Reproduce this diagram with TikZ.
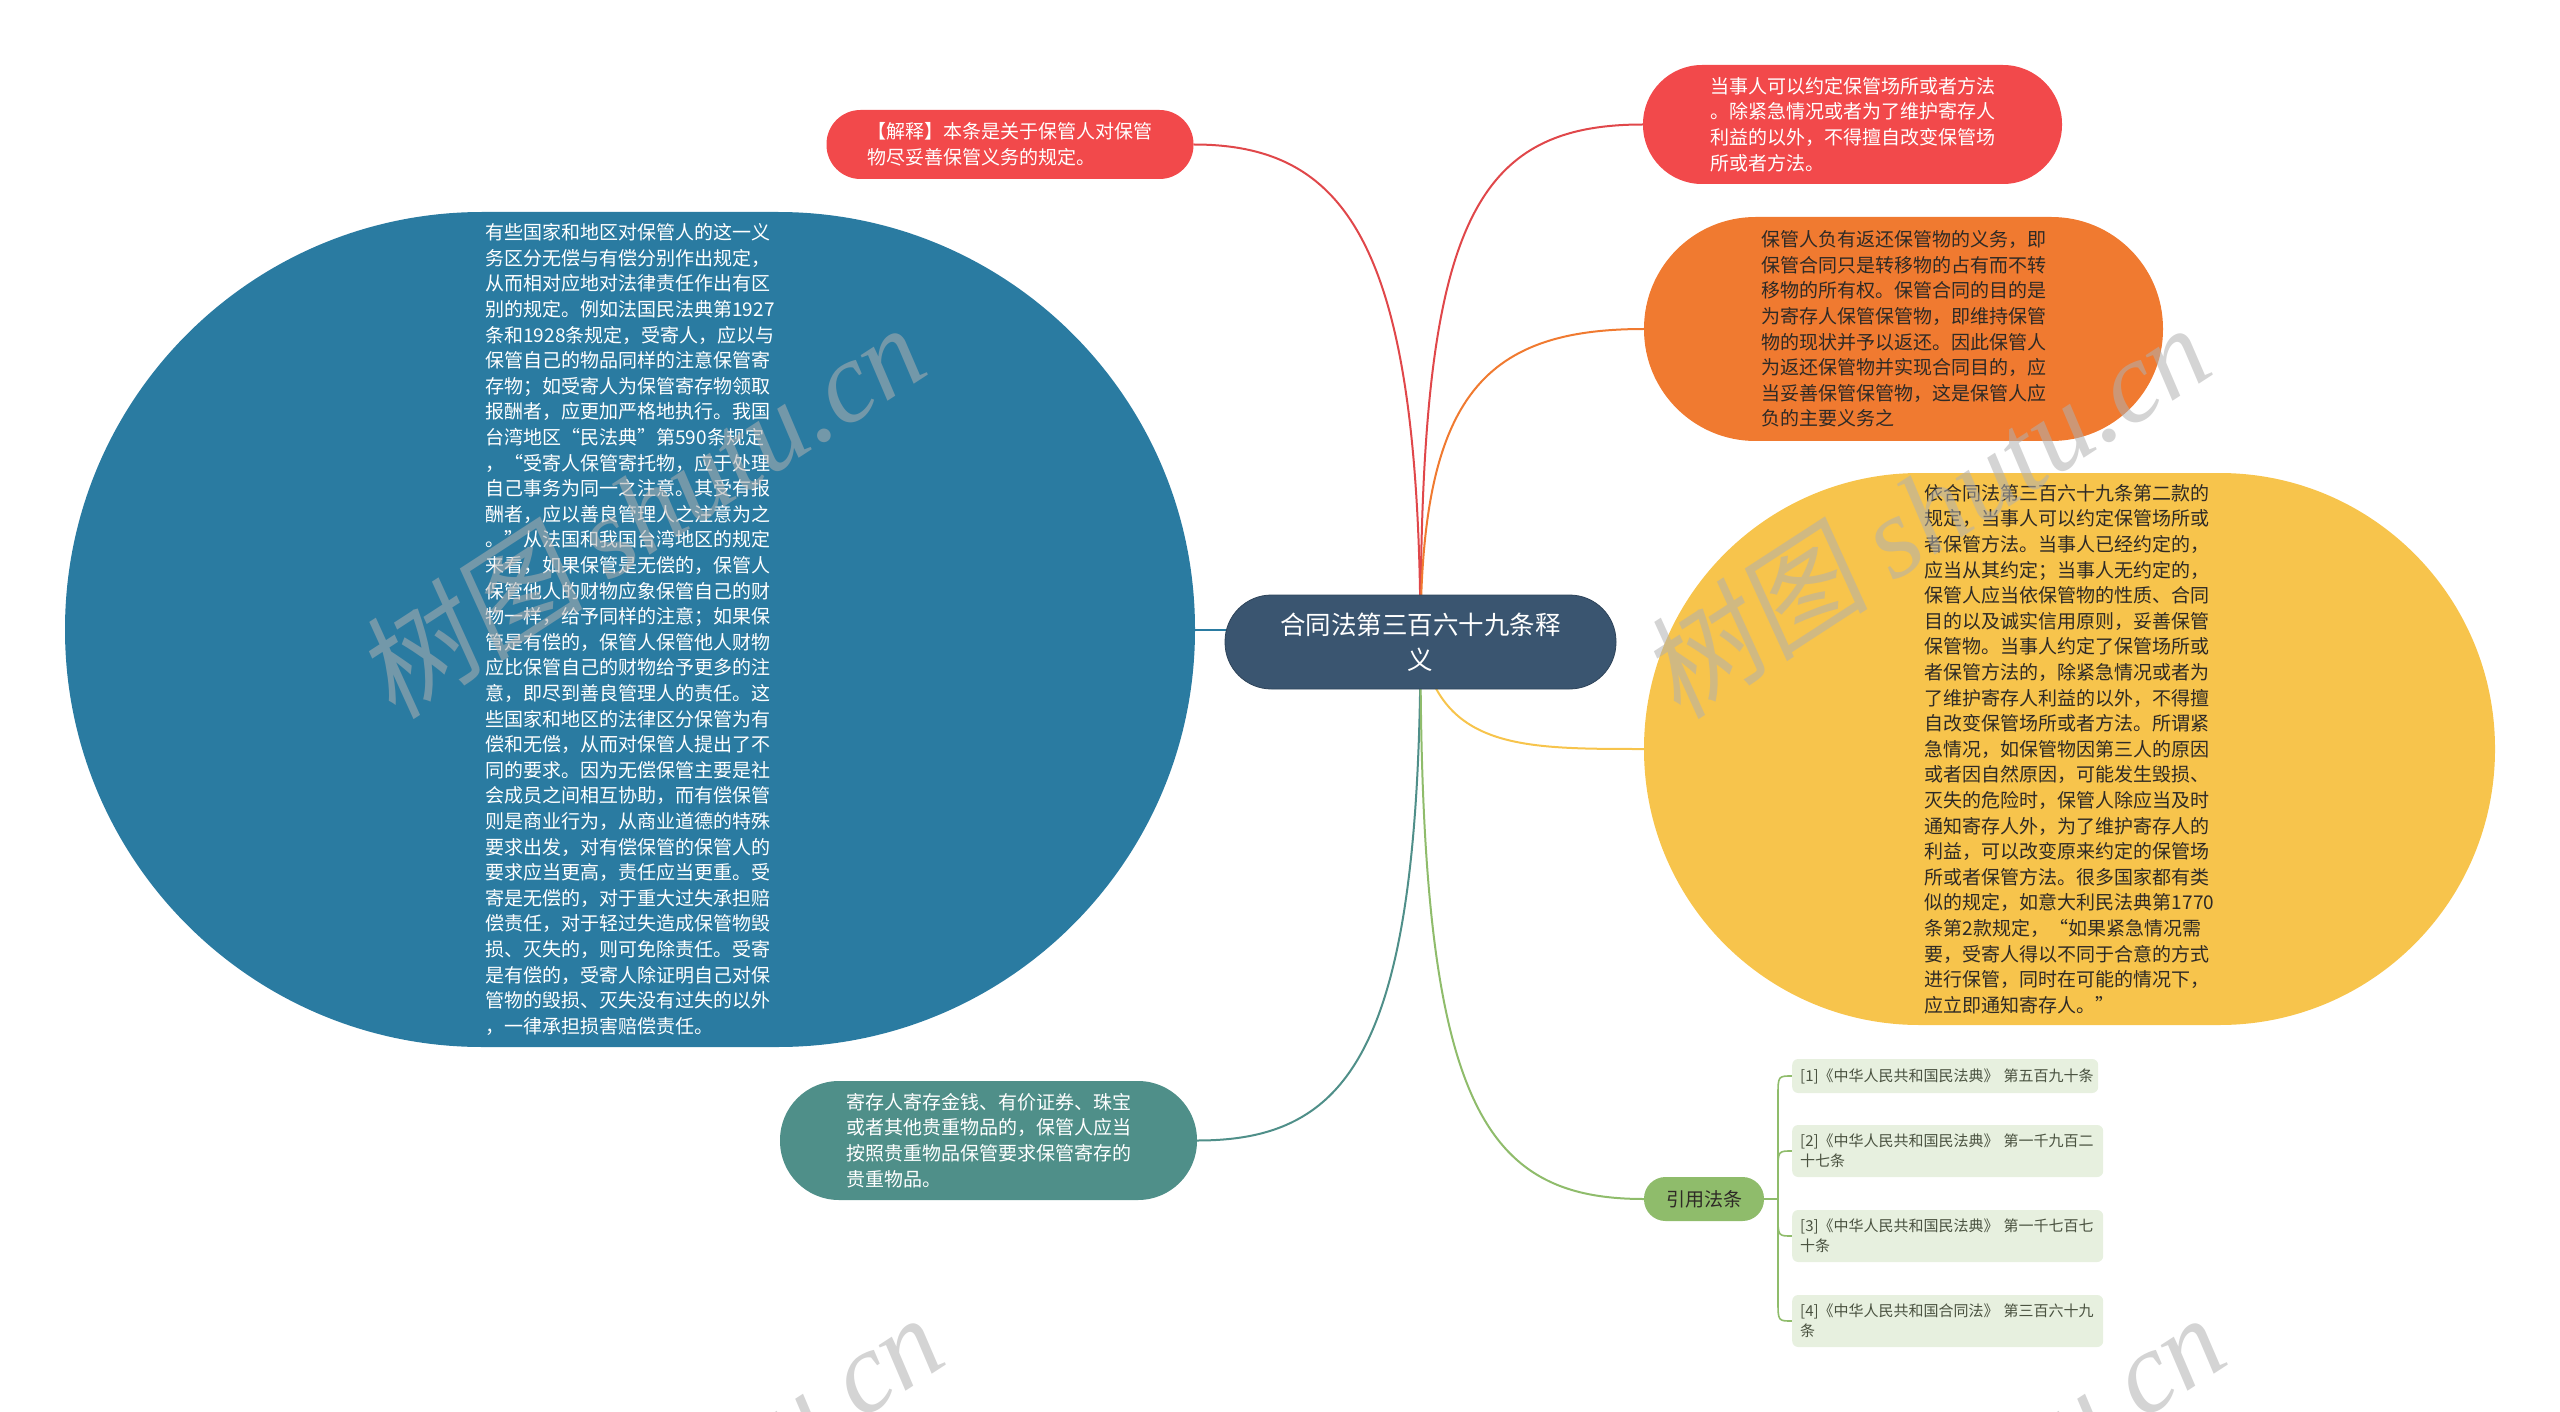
\documentclass[tikz,border=0pt]{standalone}
\usepackage{fontspec}
\setmainfont{Noto Sans CJK SC}
\newfontfamily\wmlat{Liberation Serif}
\newfontfamily\wmcjk{Noto Sans CJK SC}[FakeSlant=0.15]
\usetikzlibrary{backgrounds}
\definecolor{cRoot}{HTML}{3A5570}
\definecolor{cBlue}{HTML}{2A7BA1}
\definecolor{cRed}{HTML}{F2494B}
\definecolor{cRedL}{HTML}{E0474A}
\definecolor{cOrange}{HTML}{F07A30}
\definecolor{cYellow}{HTML}{F7C44C}
\definecolor{cTeal}{HTML}{4F8F89}
\definecolor{cGreen}{HTML}{8FBC6B}
\definecolor{cLeaf}{HTML}{E7F0DF}
\definecolor{cLeafTxt}{HTML}{4A5240}
\definecolor{cDark}{HTML}{2E2A26}
\definecolor{cWm}{HTML}{B0B0B0}
\tikzset{
  pill/.style={inner sep=0pt, align=left, font=\fontsize{19}{25.6}\selectfont},
  conn/.style={line width=2pt},
  brk/.style={line width=1.6pt, cGreen},
  leaf/.style={fill=cLeaf, rounded corners=6pt, inner xsep=8pt, inner ysep=0pt,
    align=left, text=cLeafTxt, font=\fontsize{15}{20}\selectfont, anchor=west},
  wm/.style={rotate=33, text=cWm, text opacity=0.55, font=\fontsize{115}{120}\selectfont}
}
\begin{document}
\begin{tikzpicture}[x=1pt,y=-1pt]
\useasboundingbox (0,0) rectangle (2560,1412);
\clip (0,0) rectangle (2560,1412);

% root
\node[fill=cRoot, draw=cRoot!80!black, line width=0.8pt, rounded corners=46.5pt,
  minimum width=391pt, minimum height=94pt, inner sep=0pt, align=center, text=white,
  font=\fontsize{25.5}{35}\selectfont] (root) at (1420.5,642) {合同法第三百六十九条释\\义};

% left big stadium
\node[pill, fill=cBlue, text=white, minimum width=1130pt, minimum height=835pt,
  rounded corners=417pt] (blue) at (630,629.5) {有些国家和地区对保管人的这一义\\
务区分无偿与有偿分别作出规定，\\
从而相对应地对法律责任作出有区\\
别的规定。例如法国民法典第1927\\
条和1928条规定，受寄人，应以与\\
保管自己的物品同样的注意保管寄\\
存物；如受寄人为保管寄存物领取\\
报酬者，应更加严格地执行。我国\\
台湾地区“民法典”第590条规定\\
，“受寄人保管寄托物，应于处理\\
自己事务为同一之注意。其受有报\\
酬者，应以善良管理人之注意为之\\
。”从法国和我国台湾地区的规定\\
来看，如果保管是无偿的，保管人\\
保管他人的财物应象保管自己的财\\
物一样，给予同样的注意；如果保\\
管是有偿的，保管人保管他人财物\\
应比保管自己的财物给予更多的注\\
意，即尽到善良管理人的责任。这\\
些国家和地区的法律区分保管为有\\
偿和无偿，从而对保管人提出了不\\
同的要求。因为无偿保管主要是社\\
会成员之间相互协助，而有偿保管\\
则是商业行为，从商业道德的特殊\\
要求出发，对有偿保管的保管人的\\
要求应当更高，责任应当更重。受\\
寄是无偿的，对于重大过失承担赔\\
偿责任，对于轻过失造成保管物毁\\
损、灭失的，则可免除责任。受寄\\
是有偿的，受寄人除证明自己对保\\
管物的毁损、灭失没有过失的以外\\
，一律承担损害赔偿责任。};

% top-left red
\node[pill, fill=cRed, text=white, minimum width=367pt, minimum height=69pt,
  rounded corners=34pt, font=\fontsize{19}{26}\selectfont] (tl) at (1010,144.5)
  {【解释】本条是关于保管人对保管\\物尽妥善保管义务的规定。};

% top-right red
\node[pill, fill=cRed, text=white, minimum width=419pt, minimum height=119pt,
  rounded corners=59pt] (tr) at (1852.5,124.5)
  {当事人可以约定保管场所或者方法\\。除紧急情况或者为了维护寄存人\\利益的以外，不得擅自改变保管场\\所或者方法。};

% orange
\node[pill, fill=cOrange, text=cDark, minimum width=519pt, minimum height=224pt,
  rounded corners=111.5pt] (or) at (1903.5,329)
  {保管人负有返还保管物的义务，即\\
保管合同只是转移物的占有而不转\\
移物的所有权。保管合同的目的是\\
为寄存人保管保管物，即维持保管\\
物的现状并予以返还。因此保管人\\
为返还保管物并实现合同目的，应\\
当妥善保管保管物，这是保管人应\\
负的主要义务之};

% yellow
\node[pill, fill=cYellow, text=cDark, minimum width=851pt, minimum height=552pt,
  rounded corners=275.5pt] (ye) at (2069.5,749)
  {依合同法第三百六十九条第二款的\\
规定，当事人可以约定保管场所或\\
者保管方法。当事人已经约定的，\\
应当从其约定；当事人无约定的，\\
保管人应当依保管物的性质、合同\\
目的以及诚实信用原则，妥善保管\\
保管物。当事人约定了保管场所或\\
者保管方法的，除紧急情况或者为\\
了维护寄存人利益的以外，不得擅\\
自改变保管场所或者方法。所谓紧\\
急情况，如保管物因第三人的原因\\
或者因自然原因，可能发生毁损、\\
灭失的危险时，保管人除应当及时\\
通知寄存人外，为了维护寄存人的\\
利益，可以改变原来约定的保管场\\
所或者保管方法。很多国家都有类\\
似的规定，如意大利民法典第1770\\
条第2款规定，“如果紧急情况需\\
要，受寄人得以不同于合意的方式\\
进行保管，同时在可能的情况下，\\
应立即通知寄存人。”};

% teal
\node[pill, fill=cTeal, text=white, minimum width=417pt, minimum height=119pt,
  rounded corners=59pt] (te) at (988.5,1140.5)
  {寄存人寄存金钱、有价证券、珠宝\\或者其他贵重物品的，保管人应当\\按照贵重物品保管要求保管寄存的\\贵重物品。};

% green
\node[fill=cGreen, rounded corners=21.5pt, minimum width=120pt, minimum height=44pt,
  inner sep=0pt, text=cDark, font=\fontsize{19}{24}\selectfont] (gr) at (1704,1199) {引用法条};

% leaves
\node[leaf, text width=290pt, minimum height=34pt] (l1) at (1792,1076)
  {\mbox{[1]《中华人民共和国民法典》~第五百九十条}};
\node[leaf, text width=295pt, minimum height=52pt] (l2) at (1792,1151)
  {[2]《中华人民共和国民法典》 第一千九百二\\十七条};
\node[leaf, text width=295pt, minimum height=52pt] (l3) at (1792,1236)
  {[3]《中华人民共和国民法典》 第一千七百七\\十条};
\node[leaf, text width=295pt, minimum height=52pt] (l4) at (1792,1321)
  {[4]《中华人民共和国合同法》 第三百六十九\\条};

\begin{pgfonlayer}{background}
\draw[conn, cBlue] (blue.east) -- (1300,629.5);
\draw[conn, cRedL] (root.center) .. controls (1420,250) and (1350,144.5) .. (tl.east);
\draw[conn, cRedL] (root.center) .. controls (1420,230) and (1470,124.5) .. (tr.west);
\draw[conn, cOrange] (root.center) .. controls (1420,400) and (1480,329) .. (or.west);
\draw[conn, cYellow] (root.center) .. controls (1440,749) and (1520,749) .. (ye.west);
\draw[conn, cTeal] (root.center) .. controls (1420,1050) and (1350,1140.5) .. (te.east);
\draw[conn, cGreen] (root.center) .. controls (1420,1100) and (1480,1199) .. (gr.west);
\coordinate (sp) at (1778,1199);
\draw[brk] (gr.east) -- (sp) -- (1778,1096) .. controls (1778,1076) .. (l1.west);
\draw[brk] (sp) -- (1778,1171) .. controls (1778,1151) .. (l2.west);
\draw[brk] (sp) -- (1778,1216) .. controls (1778,1236) .. (l3.west);
\draw[brk] (sp) -- (1778,1301) .. controls (1778,1321) .. (l4.west);
\end{pgfonlayer}

% watermarks
\node[wm] (w1) at (640,510) {{\wmcjk 树图} {\wmlat\itshape shutu.cn}};
\node[wm] (w2) at (1925,510) {{\wmcjk 树图} {\wmlat\itshape shutu.cn}};
\node[wm] (w3) at (658,1500) {{\wmcjk 树图} {\wmlat\itshape shutu.cn}};
\node[wm] (w4) at (1940,1500) {{\wmcjk 树图} {\wmlat\itshape shutu.cn}};
\end{tikzpicture}
\end{document}
